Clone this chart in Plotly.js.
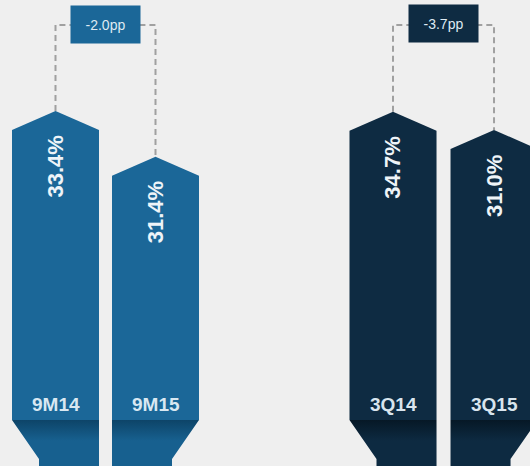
<!DOCTYPE html>
<html><head><meta charset="utf-8">
<script src="https://cdn.plot.ly/plotly-3.0.1.min.js"></script>
<style>html,body{margin:0;padding:0;background:#efefef}</style>
</head><body>
<div id="chart" style="width:530px;height:466px"></div>
<script>
// ---- data ----
const categoriesA = ['9M14', '9M15'];
const valuesA = [33.4, 31.4];
const categoriesB = ['3Q14', '3Q15'];
const valuesB = [34.7, 31.0];
const deltaLabels = ['-2.0pp', '-3.7pp'];

// ---- styling / layout ----
const W = 530, H = 466;
const groups = [
  {cats: categoriesA, vals: valuesA, delta: deltaLabels[0], xa: 'x', ya: 'y',
   xrange: [-0.555, 2.095], yrange: [17.87, 38.26], pxX: 100,
   color: '#1b6798', band: ['#0d4468', '#17608f'], labelColor: '#d9e8f2', boxY: 24.5},
  {cats: categoriesB, vals: valuesB, delta: deltaLabels[1], xa: 'x2', ya: 'y2',
   xrange: [-1.267, 1.356], yrange: [-36.9, 57.27], pxX: 101,
   color: '#0e2b42', band: ['#061826', '#0d2a41'], labelColor: '#d9e5ee', boxY: 23.5}
];
const BAR_W = 87, TIP = 19, BAND_TOP = 420, TAPER_END = 459, INDENT = 27, BRACKET_TOP = 25;
const FONT = 'Liberation Sans, Arial, sans-serif';

const traces = [], annotations = [];
groups.forEach(g => {
  const [r0, r1] = g.yrange;
  const pxToY = p => r1 - p * (r1 - r0) / H;
  const tip = TIP * (r1 - r0) / H;
  const hw = BAR_W / 2 / g.pxX;
  const ind = INDENT / g.pxX;
  const yBand = pxToY(BAND_TOP), yTaper = pxToY(TAPER_END), yBot = r0;
  const yTop = pxToY(BRACKET_TOP);
  // dashed bracket
  traces.push({type: 'scatter', mode: 'lines', xaxis: g.xa, yaxis: g.ya,
    x: [0, 0, 1, 1], y: [g.vals[0], yTop, yTop, g.vals[1]],
    line: {color: '#a0a0a0', width: 2, dash: '6px,4px'}, hoverinfo: 'skip', showlegend: false});
  g.vals.forEach((v, i) => {
    const c = i;
    // body with pointed top
    traces.push({type: 'scatter', mode: 'lines', xaxis: g.xa, yaxis: g.ya, fill: 'toself',
      x: [c - hw, c - hw, c, c + hw, c + hw, c - hw],
      y: [yBand, v - tip, v, v - tip, yBand, yBand],
      fillcolor: g.color, line: {width: 0, color: g.color}, hoverinfo: 'skip', showlegend: false});
    // tapered bottom
    let xs, ys;
    if (i === 0) {
      xs = [c - hw, c + hw, c + hw, c - hw + ind, c - hw + ind, c - hw];
      ys = [yBand, yBand, yBot, yBot, yTaper, yBand];
    } else {
      xs = [c - hw, c + hw, c + hw - ind, c + hw - ind, c - hw, c - hw];
      ys = [yBand, yBand, yTaper, yBot, yBot, yBand];
    }
    traces.push({type: 'scatter', mode: 'lines', xaxis: g.xa, yaxis: g.ya, fill: 'toself',
      x: xs, y: ys, line: {width: 0, color: g.band[1]},
      fillgradient: {type: 'vertical', colorscale: [[0, g.band[1]], [0.55, g.band[1]], [1, g.band[0]]]},
      hoverinfo: 'skip', showlegend: false});
    // value label
    annotations.push({xref: g.xa, yref: g.ya, x: c, y: v, yshift: -56, textangle: -90,
      text: '<b>' + v.toFixed(1) + '%</b>', showarrow: false, xanchor: 'center', yanchor: 'middle',
      font: {family: FONT, size: 22, color: '#eef4f8'}});
    // category label
    annotations.push({xref: g.xa, yref: g.ya, x: c, y: pxToY(404),
      text: '<b>' + g.cats[i] + '</b>', showarrow: false, xanchor: 'center', yanchor: 'middle',
      font: {family: FONT, size: 19, color: g.labelColor}});
  });
  // delta box
  annotations.push({xref: g.xa, yref: g.ya, x: 0.5, y: pxToY(g.boxY), text: g.delta,
    showarrow: false, bgcolor: g.color, width: 69, height: 37, borderpad: 0,
    font: {family: FONT, size: 14, color: '#dfeaf2'}});
});

const axX = r => ({range: r, visible: false, fixedrange: true});
const layout = {
  width: W, height: H, margin: {l: 0, r: 0, t: 0, b: 0},
  paper_bgcolor: '#efefef', plot_bgcolor: 'rgba(0,0,0,0)', showlegend: false,
  xaxis: Object.assign(axX(groups[0].xrange), {domain: [0, 0.5]}),
  yaxis: Object.assign(axX(groups[0].yrange), {domain: [0, 1]}),
  xaxis2: Object.assign(axX(groups[1].xrange), {domain: [0.5, 1], anchor: 'y2'}),
  yaxis2: Object.assign(axX(groups[1].yrange), {domain: [0, 1], anchor: 'x2'}),
  annotations: annotations
};
Plotly.newPlot('chart', traces, layout, {staticPlot: true, displayModeBar: false});
</script>
</body></html>
